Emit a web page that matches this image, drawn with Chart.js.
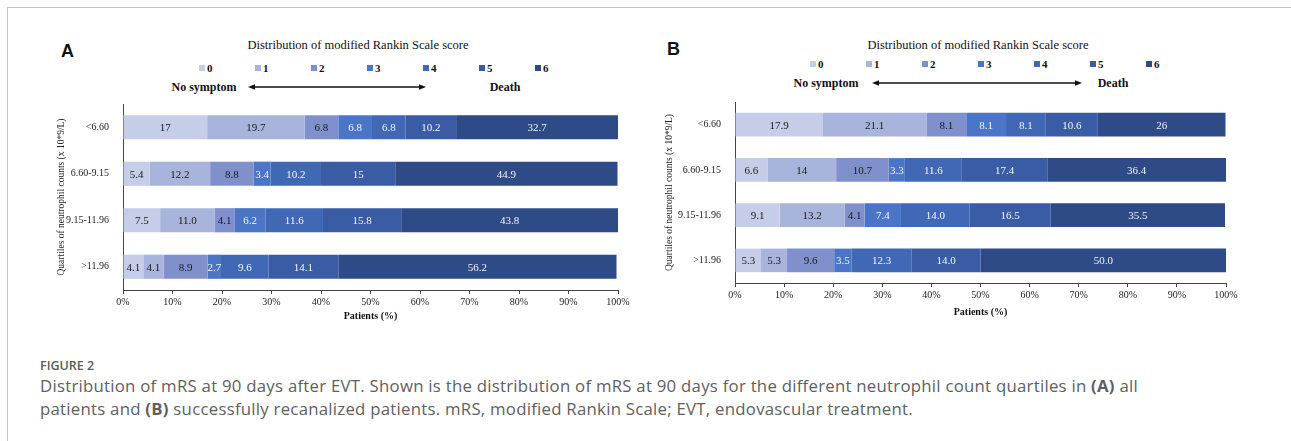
<!DOCTYPE html>
<html>
<head>
<meta charset="utf-8">
<script src="https://cdn.jsdelivr.net/npm/chart.js@4.4.1/dist/chart.umd.min.js"></script>
<style>
  body { margin: 0; background: #fff; width: 1291px; height: 441px; overflow: hidden; position: relative; font-family: "Liberation Serif", "Times New Roman", serif; color: #111; }
  .frame { position: absolute; left: 7px; top: 7px; width: 1300px; height: 450px; border-left: 1px solid #c4c4c4; border-top: 1px solid #c4c4c4; }
  .abs { position: absolute; white-space: nowrap; }
  .panel { font-family: "Liberation Sans", Arial, sans-serif; font-weight: bold; font-size: 18px; line-height: 18px; }
  .title { font-size: 12.5px; transform: translate(-50%, -50%); }
  .leg { font-size: 11px; font-weight: bold; transform: translateY(-50%); }
  .leg i { display: inline-block; width: 6px; height: 6px; margin-right: 2px; vertical-align: 1px; }
  .ends { font-size: 12px; font-weight: bold; transform: translate(-50%, -50%); }
  .fig { font-family: "Open Sans", sans-serif; font-weight: 600; font-size: 12.5px; color: #5a5a5a; left: 40px; top: 357px; }
  .cap { font-family: "Open Sans", sans-serif; font-size: 16.8px; letter-spacing: 0.25px; color: #606060; left: 40px; top: 374px; line-height: 23px; }
  .cap b { font-weight: 700; }
  canvas { position: absolute; }
</style>
</head>
<body>
<div class="frame"></div>

<div class="abs panel" style="left:61px;top:42px">A</div>
<div class="abs panel" style="left:667px;top:40px">B</div>

<div id="overlay"></div>

<canvas id="chartA" width="600" height="240" style="left:40px;top:92px"></canvas>
<canvas id="chartB" width="600" height="240" style="left:652px;top:90px"></canvas>

<div class="abs fig">FIGURE 2</div>
<div class="abs cap">Distribution of mRS at 90 days after EVT. Shown is the distribution of mRS at 90 days for the different neutrophil count quartiles in <b>(A)</b> all<br>patients and <b>(B)</b> successfully recanalized patients. mRS, modified Rankin Scale; EVT, endovascular treatment.</div>

<script>
// quartiles of neutrophil counts
const quartiles = ['<6.60', '6.60-9.15', '9.15-11.96', '>11.96'];
const scores = ['0', '1', '2', '3', '4', '5', '6'];
const xTicks = [0, 10, 20, 30, 40, 50, 60, 70, 80, 90, 100];

// panel A: all patients, one array per mRS score (values as printed)
const allScore0 = ['17', '5.4', '7.5', '4.1'];
const allScore1 = ['19.7', '12.2', '11.0', '4.1'];
const allScore2 = ['6.8', '8.8', '4.1', '8.9'];
const allScore3 = ['6.8', '3.4', '6.2', '2.7'];
const allScore4 = ['6.8', '10.2', '11.6', '9.6'];
const allScore5 = ['10.2', '15', '15.8', '14.1'];
const allScore6 = ['32.7', '44.9', '43.8', '56.2'];

// panel B: successfully recanalized patients
const recScore0 = ['17.9', '6.6', '9.1', '5.3'];
const recScore1 = ['21.1', '14', '13.2', '5.3'];
const recScore2 = ['8.1', '10.7', '4.1', '9.6'];
const recScore3 = ['8.1', '3.3', '7.4', '3.5'];
const recScore4 = ['8.1', '11.6', '14.0', '12.3'];
const recScore5 = ['10.6', '17.4', '16.5', '14.0'];
const recScore6 = ['26', '36.4', '35.5', '50.0'];

const colors = ['#c5cde8', '#a8b4db', '#8090cd', '#4b76c7', '#4068b4', '#3a5ca4', '#2e4a87'];
const textColors = ['#1a1a1a', '#1a1a1a', '#1a1a1a', '#f2f4fa', '#f2f4fa', '#f2f4fa', '#f2f4fa'];

const SERIF = '"Liberation Serif", "Times New Roman", serif';

// --- labels inside the segments ---
const segText = {
  id: 'segText',
  afterDatasetsDraw(chart) {
    const ctx = chart.ctx;
    ctx.save();
    ctx.font = '11px ' + SERIF;
    ctx.textAlign = 'center';
    ctx.textBaseline = 'middle';
    chart.data.datasets.forEach((ds, di) => {
      chart.getDatasetMeta(di).data.forEach((bar, i) => {
        ctx.fillStyle = textColors[di];
        ctx.fillText(ds.printed[i], (bar.x + bar.base) / 2, bar.y + 1);
      });
    });
    ctx.restore();
  }
};

function makeChart(id, series, pad) {
  const datasets = series.map((vals, i) => ({
    label: scores[i],
    data: vals.map(Number),
    printed: vals,
    backgroundColor: colors[i],
    borderWidth: 0,
    barPercentage: 0.52,
    categoryPercentage: 1
  }));

  return new Chart(document.getElementById(id), {
    type: 'bar',
    data: { labels: quartiles, datasets },
    plugins: [segText],
    options: {
      indexAxis: 'y',
      responsive: false,
      animation: false,
      layout: { padding: { left: 0, right: pad.right, top: pad.top, bottom: 0 } },
      plugins: { legend: { display: false }, tooltip: { enabled: false } },
      scales: {
        x: {
          stacked: true,
          min: 0,
          max: 100,
          afterBuildTicks: (s) => { s.ticks = xTicks.map(v => ({ value: v })); },
          afterFit: (s) => { s.height = pad.xh; },
          ticks: { callback: (v) => v + '%', font: { family: SERIF, size: 10 }, color: '#222', padding: 2, maxRotation: 0 },
          grid: { display: true, drawOnChartArea: false, drawTicks: true, tickLength: 4, color: '#444' },
          border: { display: true, color: '#444', width: 1 },
          title: { display: true, text: 'Patients (%)', font: { family: SERIF, size: 10, weight: 'bold' }, color: '#111', padding: { top: 0, bottom: pad.xt } }
        },
        y: {
          stacked: true,
          afterFit: (s) => { s.width = pad.left; },
          ticks: { font: { family: SERIF, size: 10 }, color: '#222', padding: 6 },
          grid: { display: false },
          border: { display: true, color: '#444', width: 1 },
          title: { display: true, text: 'Quartiles of neutrophil counts (x 10*9/L)', font: { family: SERIF, size: 9.5 }, color: '#222', padding: { top: pad.yt, bottom: 0 } }
        }
      }
    }
  });
}

makeChart('chartA', [allScore0, allScore1, allScore2, allScore3, allScore4, allScore5, allScore6],
  { left: 83, right: 22, top: 10, xh: 42, xt: 10, yt: 16 });
makeChart('chartB', [recScore0, recScore1, recScore2, recScore3, recScore4, recScore5, recScore6],
  { left: 83, right: 26, top: 10, xh: 47, xt: 12, yt: 12 });

// --- header: title, legend, arrow ---
function header(cx, titleY, legX, legY, endY, noX, arrow, deathX) {
  const ov = document.getElementById('overlay');
  let html = '<div class="abs title" style="left:' + cx + 'px;top:' + titleY + 'px">Distribution  of  modified Rankin Scale score</div>';
  scores.forEach((s, i) => {
    html += '<div class="abs leg" style="left:' + (legX + i * 56) + 'px;top:' + legY + 'px"><i style="background:' + colors[i] + '"></i>' + s + '</div>';
  });
  html += '<div class="abs ends" style="left:' + noX + 'px;top:' + endY + 'px">No symptom</div>';
  html += '<div class="abs ends" style="left:' + deathX + 'px;top:' + endY + 'px">Death</div>';
  const w = arrow[1] - arrow[0];
  html += '<svg class="abs" style="left:' + arrow[0] + 'px;top:' + (endY - 4) + 'px" width="' + w + '" height="8">' +
    '<line x1="4" y1="4" x2="' + (w - 4) + '" y2="4" stroke="#111" stroke-width="1.3"/>' +
    '<path d="M0 4 L7 1.2 L7 6.8 Z" fill="#111"/>' +
    '<path d="M' + w + ' 4 L' + (w - 7) + ' 1.2 L' + (w - 7) + ' 6.8 Z" fill="#111"/></svg>';
  ov.insertAdjacentHTML('beforeend', html);
}
header(358, 45, 199, 68, 87, 204, [248, 426], 505);
header(978, 45, 810, 64, 83, 826, [872, 1082], 1113);
</script>
</body>
</html>
